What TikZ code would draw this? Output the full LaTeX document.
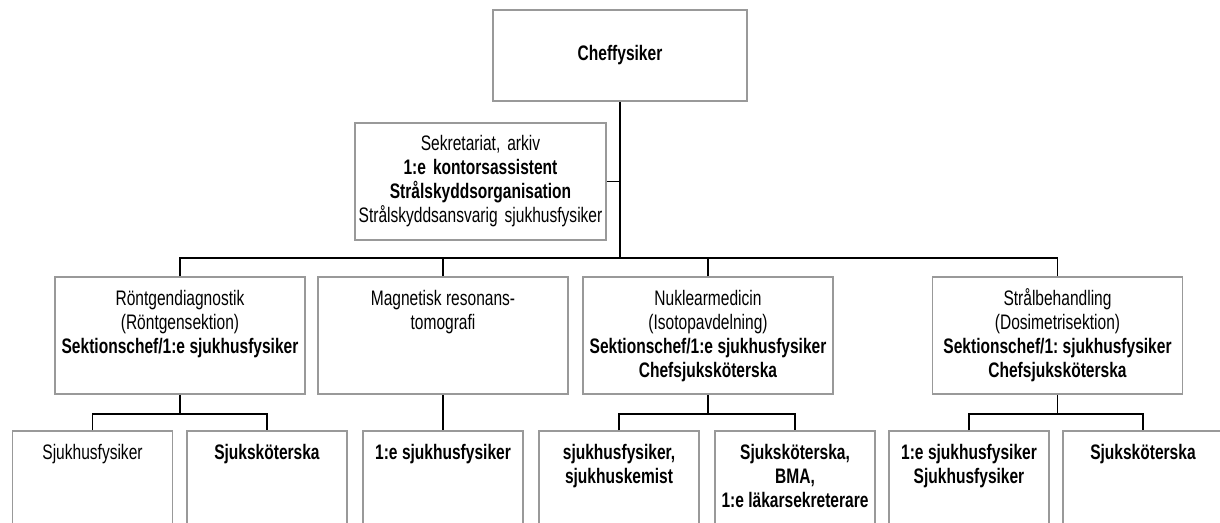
\documentclass[tikz,border=0pt]{standalone}
\usepackage{fontspec}
\setmainfont[FakeStretch=0.74]{Liberation Sans}
\definecolor{boxline}{HTML}{999999}
% cell with text hanging from the top edge
\newcommand{\topcell}[3]{\begin{minipage}[t][#2][t]{#1}\centering\rule{0pt}{28pt}#3\end{minipage}}
\newcommand{\orgfont}{\fontsize{21pt}{24pt}\selectfont\frenchspacing\spaceskip=4.4pt plus 1pt minus 1pt\relax}
\tikzset{
  unit/.style={draw=boxline, line width=1.5pt, inner sep=0pt, font=\orgfont},
  midunit/.style={unit, align=center, text width=#1, minimum height=117pt},
  link/.style={black, line width=1.8pt}
}

\begin{document}
\begin{tikzpicture}[x=1pt, y=-1pt]
  \useasboundingbox (0,0) rectangle (1220,522);
  \clip (0,0) rectangle (1220,522);
  % top
  \node[midunit=254pt, minimum height=91pt] (chef) at (620,55.5) {\textbf{Cheffysiker}};
  \node[midunit=251pt] (sekr) at (480.5,181.5) {Sekretariat, arkiv\\ \textbf{1:e kontorsassistent}\\ \textbf{Strålskyddsorganisation}\\ Strålskyddsansvarig sjukhusfysiker};
  \coordinate (bus) at (620,258);
  % sections
  \node[unit] (roent) at (180,335.5) {\topcell{250pt}{117pt}{Röntgendiagnostik\\ (Röntgensektion)\\ \textbf{Sektionschef/1:e sjukhusfysiker}}};
  \node[unit] (magn) at (443,335.5) {\topcell{250pt}{117pt}{Magnetisk resonans-\\ tomografi}};
  \node[unit] (nukl) at (708,335.5) {\topcell{250pt}{117pt}{Nuklearmedicin\\ (Isotopavdelning)\\ \textbf{Sektionschef/1:e sjukhusfysiker}\\ \textbf{Chefsjuksköterska}}};
  \node[unit] (straal) at (1057.5,335.5) {\topcell{250pt}{117pt}{Strålbehandling\\ (Dosimetrisektion)\\ \textbf{Sektionschef/1: sjukhusfysiker}\\ \textbf{Chefsjuksköterska}}};
  % staff
  \node[unit] (fys1) at (92.5,489.5) {\topcell{160pt}{117pt}{Sjukhusfysiker}};
  \node[unit] (ssk1) at (267,489.5) {\topcell{160pt}{117pt}{\textbf{Sjuksköterska}}};
  \node[unit] (fys2) at (443,489.5) {\topcell{160pt}{117pt}{\textbf{1:e sjukhusfysiker}}};
  \node[unit] (fys3) at (619,489.5) {\topcell{160pt}{117pt}{\textbf{sjukhusfysiker,}\\ \textbf{sjukhuskemist}}};
  \node[unit] (ssk3) at (795,489.5) {\topcell{160pt}{117pt}{\textbf{Sjuksköterska,}\\ \textbf{BMA,}\\ \textbf{1:e läkarsekreterare}}};
  \node[unit] (fys4) at (969,489.5) {\topcell{160pt}{117pt}{\textbf{1:e sjukhusfysiker}\\ \textbf{Sjukhusfysiker}}};
  \node[unit] (ssk4) at (1143,489.5) {\topcell{160pt}{117pt}{\textbf{Sjuksköterska}}};
  % connectors
  \draw[link] (chef.south) -- (bus);
  \draw[link] (sekr.east) -- (sekr.east -| bus);
  \draw[link] (roent.north) |- (bus) -| (straal.north);
  \draw[link] (magn.north) -- (magn.north |- bus);
  \draw[link] (nukl.north) -- (nukl.north |- bus);
  \draw[link] (roent.south) -- ++(0,19) coordinate (rbus);
  \draw[link] (fys1.north) |- (rbus) -| (ssk1.north);
  \draw[link] (magn.south) -- (fys2.north);
  \draw[link] (nukl.south) -- ++(0,19) coordinate (nbus);
  \draw[link] (fys3.north) |- (nbus) -| (ssk3.north);
  \draw[link] (straal.south) -- ++(0,19) coordinate (sbus);
  \draw[link] (fys4.north) |- (sbus) -| (ssk4.north);
\end{tikzpicture}
\end{document}
